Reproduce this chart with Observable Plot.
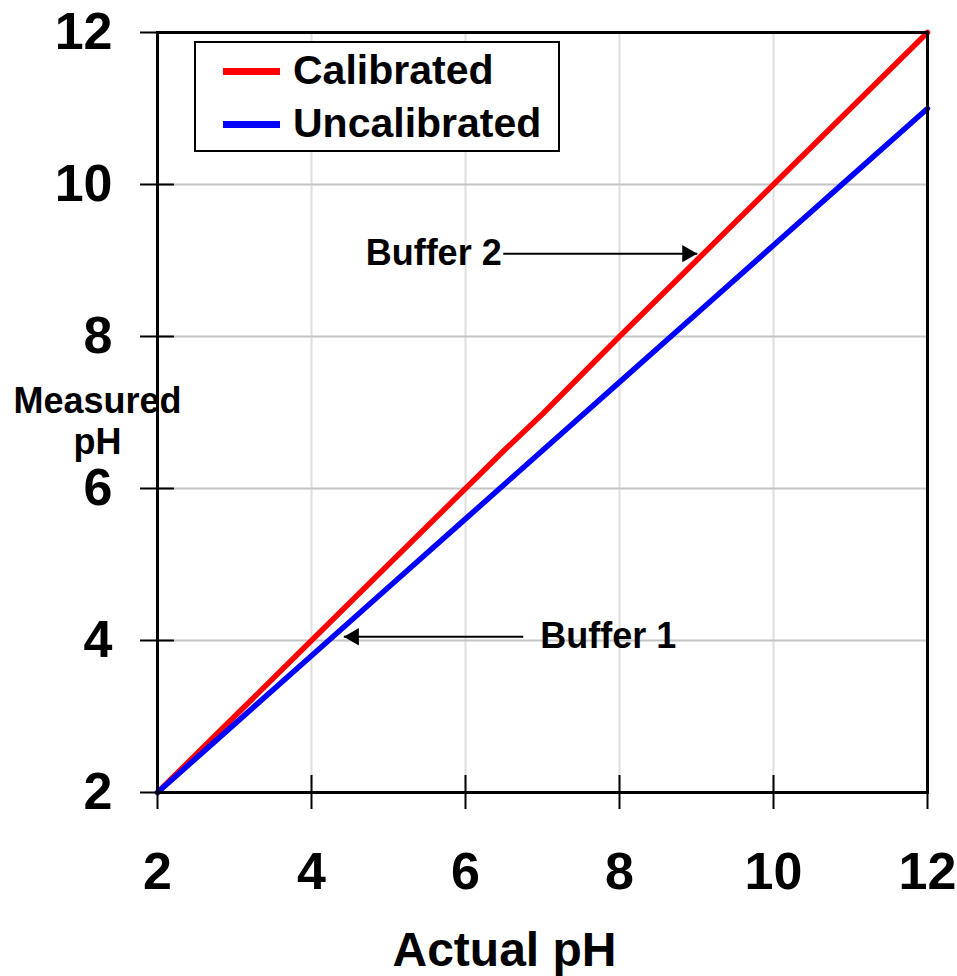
<!DOCTYPE html>
<html><head><meta charset="utf-8">
<script src="https://cdn.jsdelivr.net/npm/d3@7"></script>
<script src="https://cdn.jsdelivr.net/npm/@observablehq/plot@0.6"></script>
<style>
body{margin:0;background:#fff;}
#wrap{position:relative;width:957px;height:976px;font-family:"Liberation Sans",Arial,sans-serif;}
#legend{position:absolute;left:194px;top:41px;width:362px;height:107px;border:2px solid #000;background:#fff;}
.sw{position:absolute;left:27px;width:57px;height:7px;}
.lt{position:absolute;left:97px;font-size:41px;font-weight:bold;line-height:1;color:#000;white-space:nowrap;}
</style></head>
<body>
<div id="wrap"><div id="chart"></div>
<div id="legend">
  <div class="sw" style="top:24.5px;background:#ff0000"></div>
  <div class="lt" style="top:7px">Calibrated</div>
  <div class="sw" style="top:77.5px;background:#0000ff"></div>
  <div class="lt" style="top:60px">Uncalibrated</div>
</div>
</div>
<script>
const xTicks = [2, 4, 6, 8, 10, 12];
const yTicks = [2, 4, 6, 8, 10, 12];
const seriesNames = ["Calibrated", "Uncalibrated"];
const seriesColors = ["#ff0000", "#0000ff"];
const calActual = [2, 3, 4, 5, 6, 6.5, 7, 8, 9, 10, 11, 12];
const calMeasured = [2, 3, 4, 5, 6, 6.5, 6.98, 8, 9, 10, 11, 12];
const uncalActual = [2, 3, 4, 5, 6, 7, 8, 9, 10, 11, 12];
const uncalMeasured = [2, 2.9, 3.8, 4.7, 5.6, 6.5, 7.4, 8.3, 9.2, 10.1, 11];
const bufferLabels = ["Buffer 1", "Buffer 2"];
const bufferLabelX = [6.97, 6.47];
const bufferFromX = [6.75, 6.49];
const bufferToX = [4.42, 9.01];
const bufferY = [4.05, 9.09];
const xTitle = "Actual pH";
const yTitle = "Measured\npH";

const rows = [
  ...calActual.map((x, i) => ({x, y: calMeasured[i], series: seriesNames[0]})),
  ...uncalActual.map((x, i) => ({x, y: uncalMeasured[i], series: seriesNames[1]}))
];
const notes = bufferLabels.map((label, i) => ({label, lx: bufferLabelX[i], x1: bufferFromX[i], x2: bufferToX[i], y: bufferY[i]}));
const leftNotes = notes.filter(d => d.x2 < d.x1);
const rightNotes = notes.filter(d => d.x2 > d.x1);
const fmt = d3.format("d");

const chart = Plot.plot({
  width: 957, height: 976,
  marginLeft: 157, marginRight: 30, marginTop: 32, marginBottom: 184,
  x: {domain: [2, 12]},
  y: {domain: [2, 12]},
  color: {domain: seriesNames, range: seriesColors},
  style: {fontFamily: "'Liberation Sans', Arial, sans-serif", fontWeight: "bold", color: "#000", background: "#fff"},
  marks: [
    Plot.gridX(xTicks, {stroke: "#dedede", strokeOpacity: 1, strokeWidth: 2}),
    Plot.gridY(yTicks, {stroke: "#c4c4c4", strokeOpacity: 1, strokeWidth: 2}),
    Plot.line(rows, {x: "x", y: "y", z: "series", stroke: "series", strokeWidth: 5.5}),
    Plot.frame({stroke: "#000", strokeWidth: 3}),
    Plot.axisY(yTicks, {tickSize: 34, dx: 17, tickFormat: () => "", label: null, strokeWidth: 2}),
    Plot.axisY(yTicks, {tickSize: 0, tickPadding: 45, tickFormat: fmt, fontSize: 52, fontWeight: "bold", label: null}),
    Plot.axisX(xTicks, {tickSize: 34, dy: -17, tickFormat: () => "", label: null, strokeWidth: 2}),
    Plot.axisX(xTicks, {tickSize: 0, tickPadding: 60, tickFormat: fmt, fontSize: 52, fontWeight: "bold", label: null}),
    Plot.text([xTitle], {frameAnchor: "bottom", dx: -38, dy: 158, text: d => d, fontSize: 48, fontWeight: "bold", lineAnchor: "middle"}),
    Plot.text([yTitle], {frameAnchor: "left", dx: -60, dy: 8, text: d => d, fontSize: 36, fontWeight: "bold", lineHeight: 1.12, textAnchor: "middle", lineAnchor: "middle"}),
    Plot.link(notes, {x1: "x1", y1: "y", x2: "x2", y2: "y", stroke: "#000", strokeWidth: 2}),
    Plot.dot(rightNotes, {x: "x2", y: "y", symbol: "triangle2", r: 8.3, fill: "#000", stroke: "none", rotate: 90, dx: -10}),
    Plot.dot(leftNotes, {x: "x2", y: "y", symbol: "triangle2", r: 8.3, fill: "#000", stroke: "none", rotate: -90, dx: 10}),
    Plot.text(rightNotes, {x: "lx", y: "y", text: "label", textAnchor: "end", fontSize: 36, fontWeight: "bold"}),
    Plot.text(leftNotes, {x: "lx", y: "y", text: "label", textAnchor: "start", fontSize: 36, fontWeight: "bold"})
  ]
});
document.getElementById("chart").appendChild(chart);
</script>
</body></html>
